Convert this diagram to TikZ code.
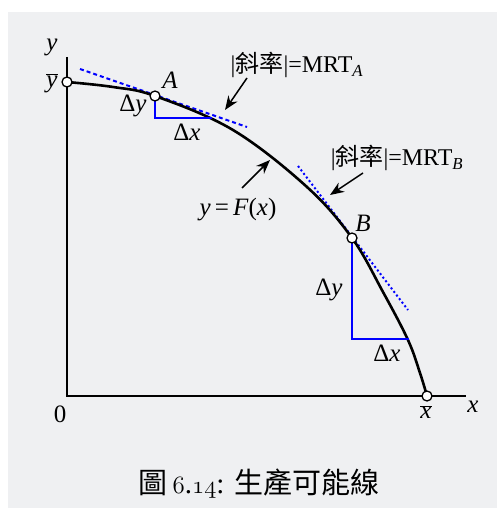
\documentclass[tikz,border=0pt]{standalone}
\usepackage{fontspec}
\setmainfont{Liberation Serif}
\newfontfamily\cjk{Noto Sans CJK TC}
\usetikzlibrary{arrows.meta}
\definecolor{bg}{RGB}{239,240,242}
\begin{document}
\begin{tikzpicture}[x=1pt,y=-1pt,
  axis/.style={line width=2.6pt},
  curve/.style={line width=2.6pt},
  pt/.style={circle, draw, fill=white, line width=1.3pt, minimum size=10pt, inner sep=0pt},
  tri/.style={blue, line width=1.4pt},
  tanA/.style={blue, line width=2pt, dash pattern=on 4pt off 3pt},
  tanB/.style={blue, line width=2pt, dash pattern=on 2pt off 2.5pt},
  lab/.style={font=\fontsize{25}{28}\selectfont, inner sep=0pt},
  clab/.style={font=\fontsize{24}{28}\selectfont, inner sep=0pt},
  capt/.style={font=\fontsize{29}{32}\selectfont, inner sep=0pt},
  ptr/.style={-{Stealth[length=14pt,width=11pt]}, line width=1.5pt}]
\useasboundingbox (0,0) rectangle (497,508);
\fill[bg] (8,12) rectangle (497,508);
% axes
\coordinate (ytop) at (67,57);
\coordinate (O) at (67,396);
\coordinate (xend) at (466,396);
\draw[axis] (ytop) -- (O) -- (xend);
% tangents
\coordinate (At1) at (80,69);
\coordinate (At2) at (247,127);
\coordinate (Bt1) at (298,166);
\coordinate (Bt2) at (408,310);
\draw[tanA] (At1) -- (At2);
\draw[tanB] (Bt1) -- (Bt2);
% curve
\draw[curve] plot[smooth, tension=0.6] coordinates {(67,82) (113,87) (155,96) (233,130) (307,187) (352,238) (383,292) (408,340) (420,373) (427,396)};
% triangles
\coordinate (Ac) at (155,118);
\coordinate (Ae) at (212,118);
\coordinate (Bc) at (352,339);
\coordinate (Be) at (409,339);
\coordinate (Ap) at (155,96);
\coordinate (Bp) at (352,238);
\draw[tri] (Ap) -- (Ac) -- (Ae);
\draw[tri] (Bp) -- (Bc) -- (Be);
% points
\node[pt] (ybarpt) at (67,82) {};
\node[pt] (A) at (Ap) {};
\node[pt] (B) at (Bp) {};
\node[pt] (xbarpt) at (427,396) {};
% labels
\node[lab] (ylab) at (52,47) {\textit{y}};
\node[lab] (ybarlab) at (52,83) {$\overline{\hbox{\textit{y}}}$};
\node[lab] (Alab) at (170,80) {\textit{A}};
\node[lab] (dyA) at (133,106) {Δ\textit{y}};
\node[lab] (dxA) at (187,132) {Δ\textit{x}};
\node[lab] (Blab) at (363,223) {\textit{B}};
\node[lab] (dyB) at (329,290) {Δ\textit{y}};
\node[lab] (dxB) at (387,353) {Δ\textit{x}};
\node[lab] (zero) at (60,414) {0};
\node[lab] (xbarlab) at (426,412) {$\overline{\hbox{\textit{x}}}$};
\node[lab] (xlab) at (473,407) {\textit{x}};
\node[lab] (Flab) at (238,210) {\textit{y}\,=\,\textit{F}(\textit{x})};
\node[clab] (mrtA) at (297,65) {|{\cjk 斜率}|=MRT\textsubscript{\textit{A}}};
\node[clab] (mrtB) at (397,158) {|{\cjk 斜率}|=MRT\textsubscript{\textit{B}}};
% arrows
\coordinate (aAt) at (247,78);
\coordinate (aAh) at (225,110);
\coordinate (aBt) at (363,173);
\coordinate (aBh) at (330,195);
\coordinate (aFt) at (242,188);
\coordinate (aFh) at (270,160);
\draw[ptr] (aAt) -- (aAh);
\draw[ptr] (aBt) -- (aBh);
\draw[ptr] (aFt) -- (aFh);
% caption
\node[capt] (cap) at (259,484) {{\cjk 圖}\,$\mathnormal{6}$.$\mathnormal{14}$: {\cjk 生產可能線}};
\end{tikzpicture}
\end{document}
